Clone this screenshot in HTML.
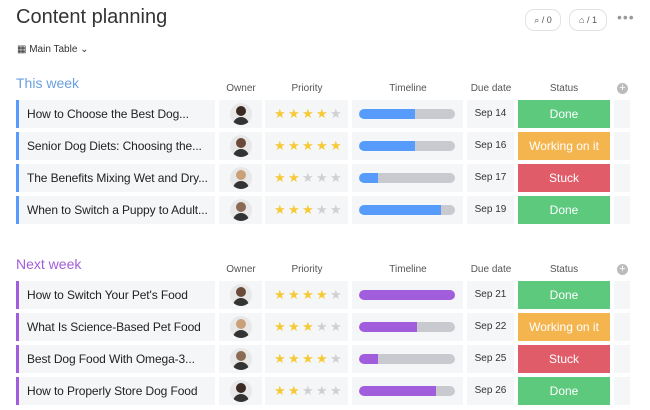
<!DOCTYPE html>
<html><head><meta charset="utf-8"><style>
body{margin:0;width:650px;height:410px;background:#fff;font-family:"Liberation Sans",sans-serif;position:relative;overflow:hidden;color:#323338}
.a{position:absolute}
.cell{position:absolute;background:#f5f6f8;height:28px}
.hd{position:absolute;font-size:10px;color:#555;text-align:center}
.st{color:#fff;font-size:12px;text-align:center;line-height:28px}
.star{position:absolute;font-size:13px;top:6px}
.chip{position:absolute;top:9px;height:20px;border:1px solid #e3e3e3;border-radius:9px;font-size:9px;line-height:20px;text-align:center;color:#555}
</style></head><body>
<div class="a" style="left:16px;top:6px;font-size:20px;color:#333">Content planning</div>
<div class="a" style="left:17px;top:44px;font-size:10px;color:#333">▦ Main Table ⌄</div>
<div class="chip" style="left:525px;width:34px">⌕ / 0</div>
<div class="chip" style="left:569px;width:36px">⌂ / 1</div>
<div class="a" style="left:617px;top:9px;font-size:14px;color:#999;letter-spacing:1px">•••</div>
<div id="b"></div>
<script>
const groups=[{title:"This week",color:"#579bfc",tcolor:"#6a9fe0",top:75,rows:[100,132,164,196]},
{title:"Next week",color:"#a25ddc",tcolor:"#a25ddc",top:256,rows:[281,313,345,377]}];
const names=[["How to Choose the Best Dog...","Senior Dog Diets: Choosing the...","The Benefits Mixing Wet and Dry...","When to Switch a Puppy to Adult..."],
["How to Switch Your Pet's Food","What Is Science-Based Pet Food","Best Dog Food With Omega-3...","How to Properly Store Dog Food"]];
const stars=[[4,5,2,3],[4,3,4,2]];
const progress=[[0.58,0.58,0.2,0.85],[1,0.6,0.2,0.8]];
const dates=[["Sep 14","Sep 16","Sep 17","Sep 19"],["Sep 21","Sep 22","Sep 25","Sep 26"]];
const statuses=[["Done","Working on it","Stuck","Done"],["Done","Working on it","Stuck","Done"]];
const scol={"Done":"#5cc97d","Working on it":"#f4b54e","Stuck":"#e05c69"};
const avc=["#3a2a22","#6b4a3a","#c9a07a","#8a6a55"];
const b=document.getElementById('b');
function mk(cls,style,html,name,inter){const e=document.createElement('div');e.className=cls;e.style.cssText=style;if(html!=null)e.innerHTML=html;


b.appendChild(e);return e;}
groups.forEach((g,gi)=>{
 mk('a',`left:16px;top:${g.top}px;font-size:14px;color:${g.tcolor}`,g.title,'group-title',true);
 const hy=g.top+8;
 [["Owner",219,44],["Priority",265,84],["Timeline",352,112],["Due date",467,48],["Status",518,92]].forEach(h=>
  mk('hd',`left:${h[1]}px;width:${h[2]}px;top:${hy}px`,h[0],'column-header-'+h[0].toLowerCase().replace(' ','-'),false));
 mk('a',`left:617px;top:${hy}px;width:11px;height:11px;border-radius:50%;background:#bbb;color:#fff;font-size:11px;line-height:11px;text-align:center`,'+','add-column-button',true);
 g.rows.forEach((y,ri)=>{
  mk('cell',`left:16px;width:199px;top:${y}px;border-left:3px solid ${g.color};box-sizing:border-box;font-size:12px;line-height:28px;padding-left:8px;color:#222;letter-spacing:-0.1px`,names[gi][ri],'item-name',true);
  const o=mk('cell',`left:219px;width:43px;top:${y}px`,null,'owner-cell',true);
  o.innerHTML=`<div style="position:absolute;left:11px;top:3px;width:22px;height:22px;border-radius:50%;background:#e8e8e8;overflow:hidden"><div style="position:absolute;left:6px;top:3px;width:10px;height:10px;border-radius:50%;background:${avc[(ri+gi)%4]}"></div><div style="position:absolute;left:3px;top:14px;width:16px;height:10px;border-radius:8px 8px 0 0;background:#333"></div></div>`;
  const p=mk('cell',`left:265px;width:83px;top:${y}px`,null,'priority-cell',true);
  for(let s=0;s<5;s++){const st=document.createElement('span');st.className='star';st.style.left=(9+s*14)+'px';st.style.color=s<stars[gi][ri]?'#f6c935':'#d0d0d4';st.textContent='★';
   
   p.appendChild(st);}
  const t=mk('cell',`left:352px;width:111px;top:${y}px`,null,'timeline-cell',true);
  t.innerHTML=`<div style="position:absolute;left:7px;top:9px;width:96px;height:10px;border-radius:5px;background:#c9cad0;overflow:hidden"><div style="width:${progress[gi][ri]*100}%;height:100%;background:${g.color};border-radius:5px 0 0 5px"></div></div>`;
  mk('cell',`left:467px;width:47px;top:${y}px;font-size:10px;text-align:center;line-height:28px;color:#333`,dates[gi][ri],'due-date',true);
  mk('cell st',`left:518px;width:92px;top:${y}px;background:${scol[statuses[gi][ri]]}`,statuses[gi][ri],'status-label',true);
  mk('cell',`left:614px;width:16px;top:${y}px`,null,'empty-cell',false);
 });
});
</script>
</body></html>
